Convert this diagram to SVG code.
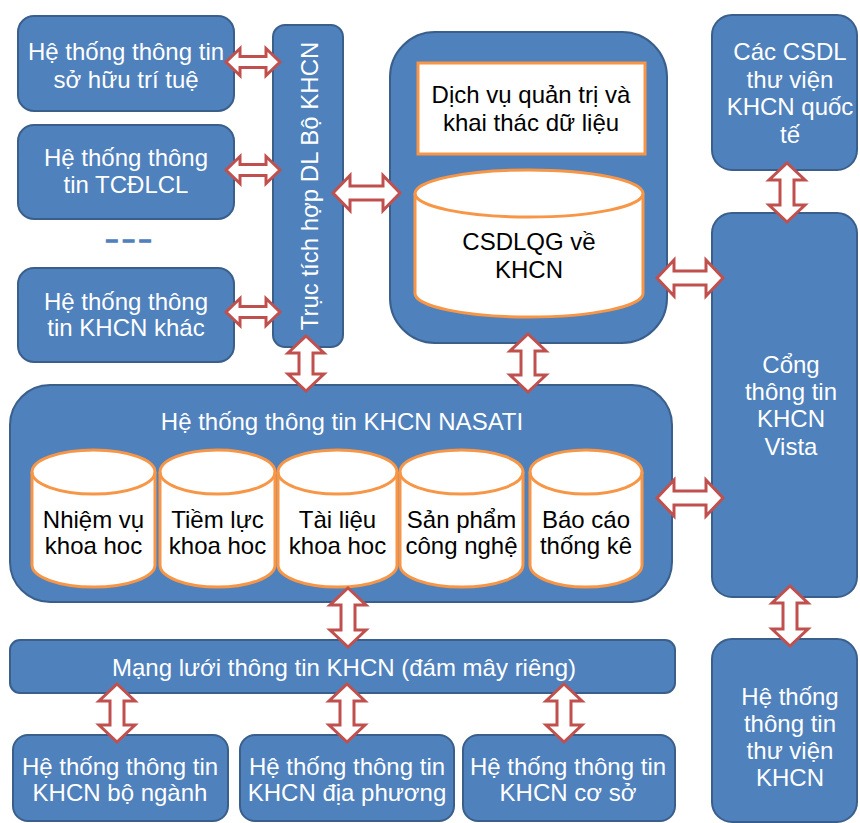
<svg xmlns="http://www.w3.org/2000/svg" width="860" height="823" viewBox="0 0 860 823">
<style>
.box{fill:#4f81bd;stroke:#3a5f8b;stroke-width:2}
.wt{fill:#ffffff;stroke:#f79646;stroke-width:3}
.ln{fill:none;stroke:#f79646;stroke-width:3}
.t{font-family:"Liberation Sans",Arial,sans-serif;font-size:24px;text-anchor:middle;fill:#ffffff}
.k{fill:#000000}
.arr{fill:#ffffff;stroke:#c0504d;stroke-width:3;stroke-linejoin:miter}
</style>
<rect width="860" height="823" fill="#ffffff"/>
<g id="n-sohuu">
<rect class="box" x="18" y="16" width="216" height="95" rx="16"/>
<text class="t" x="126" y="60">Hệ thống thông tin</text>
<text class="t" x="126" y="88">sở hữu trí tuệ</text>
</g>
<g id="n-tcdlcl">
<rect class="box" x="18" y="125" width="216" height="94" rx="16"/>
<text class="t" x="126" y="166">Hệ thống thông</text>
<text class="t" x="126" y="193">tin TCĐLCL</text>
</g>
<g id="n-dots">
<text x="131" y="246" style="font-family:'Liberation Sans',Arial,sans-serif;font-size:21px;text-anchor:middle;fill:#4f81bd;stroke:#4f81bd;stroke-width:1.6;font-weight:bold;letter-spacing:5px">–––</text>
</g>
<g id="n-khac">
<rect class="box" x="18" y="268" width="216" height="94" rx="16"/>
<text class="t" x="126" y="310">Hệ thống thông</text>
<text class="t" x="126" y="336">tin KHCN khác</text>
</g>
<g id="n-truc">
<rect class="box" x="273" y="25" width="70" height="322" rx="12"/>
<text class="t" transform="translate(318,186) rotate(-90)" x="0" y="0">Trục tích hợp DL Bộ KHCN</text>
</g>
<g id="n-csdlqg">
<rect class="box" x="390" y="32" width="277" height="311" rx="45"/>
<rect class="wt" x="418" y="63" width="227" height="91"/>
<text class="t k" x="531" y="103">Dịch vụ quản trị và</text>
<text class="t k" x="531" y="131">khai thác dữ liệu</text>
<path class="wt" d="M415,193.5 A114,23.5 0 0 1 643,193.5 L643,293.5 A114,23.5 0 0 1 415,293.5 Z"/>
<path class="ln" d="M415,193.5 A114,23.5 0 0 0 643,193.5"/>
<text class="t k" x="529" y="250">CSDLQG về</text>
<text class="t k" x="529" y="278">KHCN</text>
</g>
<g id="n-quocte">
<rect class="box" x="712" y="15" width="145" height="155" rx="20"/>
<text class="t" x="790" y="60">Các CSDL</text>
<text class="t" x="790" y="88">thư viện</text>
<text class="t" x="790" y="115">KHCN quốc</text>
<text class="t" x="790" y="143">tế</text>
</g>
<g id="n-vista">
<rect class="box" x="712" y="213" width="145" height="384" rx="20"/>
<text class="t" x="791" y="373">Cổng</text>
<text class="t" x="791" y="400">thông tin</text>
<text class="t" x="791" y="427">KHCN</text>
<text class="t" x="791" y="455">Vista</text>
</g>
<g id="n-nasati">
<rect class="box" x="10" y="385" width="662" height="217" rx="40"/>
<text class="t" x="342" y="430">Hệ thống thông tin KHCN NASATI</text>
<path class="wt" d="M32,472 A61.5,22 0 0 1 155,472 L155,565 A61.5,22 0 0 1 32,565 Z"/>
<path class="ln" d="M32,472 A61.5,22 0 0 0 155,472"/>
<path class="wt" d="M160,472 A57.5,22 0 0 1 275,472 L275,565 A57.5,22 0 0 1 160,565 Z"/>
<path class="ln" d="M160,472 A57.5,22 0 0 0 275,472"/>
<path class="wt" d="M278,472 A59.5,22 0 0 1 397,472 L397,565 A59.5,22 0 0 1 278,565 Z"/>
<path class="ln" d="M278,472 A59.5,22 0 0 0 397,472"/>
<path class="wt" d="M400,472 A61.5,22 0 0 1 523,472 L523,565 A61.5,22 0 0 1 400,565 Z"/>
<path class="ln" d="M400,472 A61.5,22 0 0 0 523,472"/>
<path class="wt" d="M530,472 A56,22 0 0 1 642,472 L642,565 A56,22 0 0 1 530,565 Z"/>
<path class="ln" d="M530,472 A56,22 0 0 0 642,472"/>
<text class="t k" x="93.5" y="528">Nhiệm vụ</text>
<text class="t k" x="93.5" y="554">khoa hoc</text>
<text class="t k" x="217.5" y="528">Tiềm lực</text>
<text class="t k" x="217.5" y="554">khoa hoc</text>
<text class="t k" x="337.5" y="528">Tài liệu</text>
<text class="t k" x="337.5" y="554">khoa hoc</text>
<text class="t k" x="461.5" y="528">Sản phẩm</text>
<text class="t k" x="461.5" y="554">công nghệ</text>
<text class="t k" x="586" y="528">Báo cáo</text>
<text class="t k" x="586" y="554">thống kê</text>
</g>
<g id="n-mangluoi">
<rect class="box" x="10" y="640" width="665" height="53" rx="10"/>
<text class="t" x="344" y="676">Mạng lưới thông tin KHCN (đám mây riêng)</text>
</g>
<g id="n-bonganh">
<rect class="box" x="13" y="735" width="215" height="86" rx="15"/>
<text class="t" x="120" y="775">Hệ thống thông tin</text>
<text class="t" x="120" y="801">KHCN bộ ngành</text>
</g>
<g id="n-diaphuong">
<rect class="box" x="240" y="735" width="214" height="86" rx="15"/>
<text class="t" x="347" y="775">Hệ thống thông tin</text>
<text class="t" x="347" y="801">KHCN địa phương</text>
</g>
<g id="n-coso">
<rect class="box" x="463" y="735" width="212" height="86" rx="15"/>
<text class="t" x="568" y="775">Hệ thống thông tin</text>
<text class="t" x="568" y="801">KHCN cơ sở</text>
</g>
<g id="n-thuvien">
<rect class="box" x="712" y="639" width="145" height="183" rx="20"/>
<text class="t" x="790" y="705">Hệ thống</text>
<text class="t" x="790" y="732">thông tin</text>
<text class="t" x="790" y="759">thư viện</text>
<text class="t" x="790" y="786">KHCN</text>
</g>
<g id="connectors">
<polygon class="arr" points="226,62 240,48.5 240,56.5 266,56.5 266,48.5 280,62 266,75.5 266,67.5 240,67.5 240,75.5"/>
<polygon class="arr" points="226,170 240,156.5 240,164.5 266,164.5 266,156.5 280,170 266,183.5 266,175.5 240,175.5 240,183.5"/>
<polygon class="arr" points="226,312 240,298.5 240,306.5 266,306.5 266,298.5 280,312 266,325.5 266,317.5 240,317.5 240,325.5"/>
<polygon class="arr" points="333,193 350,175.5 350,186 383,186 383,175.5 400,193 383,210.5 383,200 350,200 350,210.5"/>
<polygon class="arr" points="657,278 674,260 674,271 706,271 706,260 723,278 706,296 706,285 674,285 674,296"/>
<polygon class="arr" points="657,498 674,480 674,491 706,491 706,480 723,498 706,516 706,505 674,505 674,516"/>
<polygon class="arr" points="306,336 324,353 313,353 313,374 324,374 306,391 288,374 299,374 299,353 288,353"/>
<polygon class="arr" points="528,334 546,351 535,351 535,375 546,375 528,392 510,375 521,375 521,351 510,351"/>
<polygon class="arr" points="787,163 805,180 794,180 794,205 805,205 787,222 769,205 780,205 780,180 769,180"/>
<polygon class="arr" points="348,588 366,605 355,605 355,630 366,630 348,647 330,630 341,630 341,605 330,605"/>
<polygon class="arr" points="790,586 808,603 797,603 797,629 808,629 790,646 772,629 783,629 783,603 772,603"/>
<polygon class="arr" points="117,684 135,701 124,701 124,725 135,725 117,742 99,725 110,725 110,701 99,701"/>
<polygon class="arr" points="347,684 365,701 354,701 354,725 365,725 347,742 329,725 340,725 340,701 329,701"/>
<polygon class="arr" points="564,684 582,701 571,701 571,725 582,725 564,742 546,725 557,725 557,701 546,701"/>
</g>
</svg>
